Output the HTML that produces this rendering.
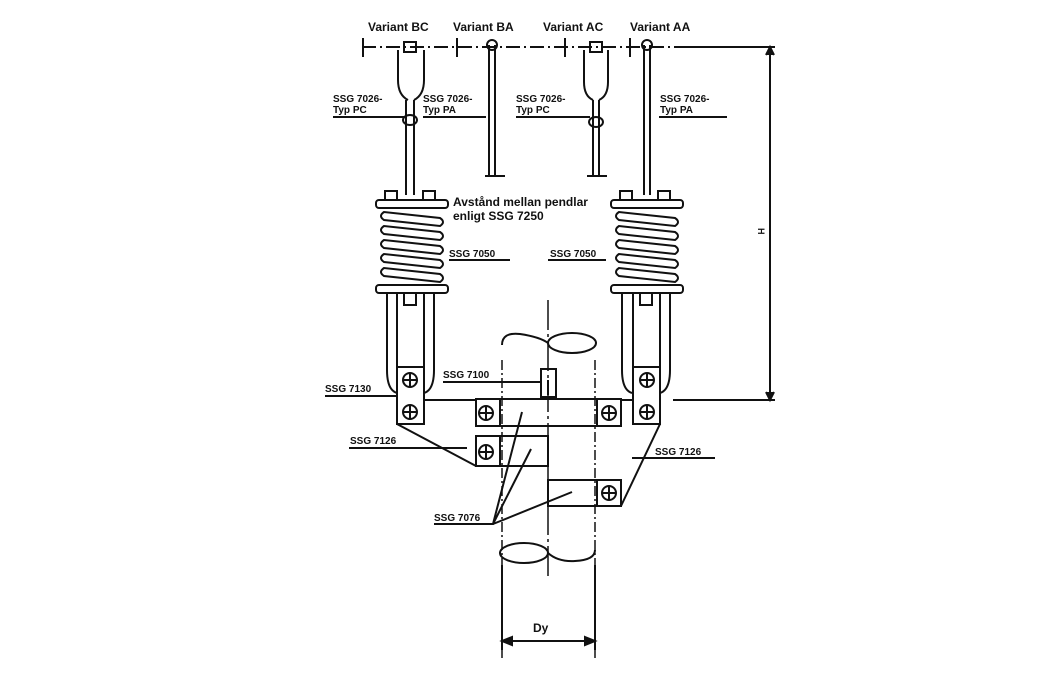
<!DOCTYPE html>
<html><head><meta charset="utf-8"><style>
html,body{margin:0;padding:0;background:#fff;width:1057px;height:682px;overflow:hidden}
text{font-family:"Liberation Sans",sans-serif;font-weight:bold;fill:#111}
</style></head><body>
<svg width="1057" height="682" viewBox="0 0 1057 682" xmlns="http://www.w3.org/2000/svg">
<g stroke="#111" stroke-width="2" fill="none">
<!-- top centerline -->
<path d="M362 47 H740" stroke-dasharray="14 4 2 4"/>
<path d="M685 47 H775"/>
<path d="M363 38 V57 M457 38 V57 M565 38 V57 M630 38 V57"/>
<!-- H dimension -->
<path d="M770 47 V400 M673 400 H775"/>
<path d="M766 392 L770 400 L774 392 M766 55 L770 47 L774 55" fill="#111"/>
<!-- BC clevis & rod -->
<path d="M398 50 V80 Q398 95 408 100 M424 50 V80 Q424 95 414 100"/>
<rect x="404" y="42" width="12" height="10"/>
<path d="M406 100 V195 M414 100 V195"/>
<ellipse cx="410" cy="120" rx="7" ry="5"/>
<!-- BA rod -->
<path d="M489 45 V176 M495 45 V176 M485 176 H505"/>
<circle cx="492" cy="45" r="5"/>
<!-- AC clevis -->
<path d="M584 50 V82 Q584 96 593 100 M608 50 V82 Q608 96 599 100"/>
<rect x="590" y="42" width="12" height="10"/>
<path d="M593 100 V176 M599 100 V176 M587 176 H607"/>
<ellipse cx="596" cy="122" rx="7" ry="5"/>
<!-- AA rod -->
<path d="M644 45 V195 M650 45 V195"/>
<circle cx="647" cy="45" r="5"/>
<!-- Label underlines -->
<path d="M333 117 H404 M423 117 H486 M516 117 H590 M659 117 H727"/>
<!-- left spring -->
<rect x="376" y="200" width="72" height="8" rx="3"/>
<rect x="385" y="191" width="12" height="9"/><rect x="423" y="191" width="12" height="9"/>
<path d="M384 212 Q378 216 384 220 L440 226 Q446 222 440 218 Z M384 226 Q378 230 384 234 L440 240 Q446 236 440 232 Z M384 240 Q378 244 384 248 L440 254 Q446 250 440 246 Z M384 254 Q378 258 384 262 L440 268 Q446 264 440 260 Z M384 268 Q378 272 384 276 L440 282 Q446 278 440 274 Z"/>
<rect x="376" y="285" width="72" height="8" rx="3"/>
<!-- right spring -->
<rect x="611" y="200" width="72" height="8" rx="3"/>
<rect x="620" y="191" width="12" height="9"/><rect x="658" y="191" width="12" height="9"/>
<path d="M619 212 Q613 216 619 220 L675 226 Q681 222 675 218 Z M619 226 Q613 230 619 234 L675 240 Q681 236 675 232 Z M619 240 Q613 244 619 248 L675 254 Q681 250 675 246 Z M619 254 Q613 258 619 262 L675 268 Q681 264 675 260 Z M619 268 Q613 272 619 276 L675 282 Q681 278 675 274 Z"/>
<rect x="611" y="285" width="72" height="8" rx="3"/>
<path d="M449 260 H510 M548 260 H606"/>
<!-- left hanger -->
<path d="M387 293 V370 Q387 390 397 393 M434 293 V370 Q434 390 424 393"/>
<path d="M397 293 V424 H424 V293"/>
<path d="M404 293 V305 H416 V293"/>
<circle cx="410" cy="380" r="7"/><circle cx="410" cy="412" r="7"/>
<path d="M397 367 H424 M403 380 H417 M410 373 V387 M403 412 H417 M410 405 V419"/>
<!-- right hanger -->
<path d="M622 293 V370 Q622 390 632 393 M670 293 V370 Q670 390 660 393"/>
<path d="M633 293 V424 H660 V293"/>
<path d="M640 293 V305 H652 V293"/>
<circle cx="647" cy="380" r="7"/><circle cx="647" cy="412" r="7"/>
<path d="M633 367 H660 M640 380 H654 M647 373 V387 M640 412 H654 M647 405 V419"/>
<!-- horizontal line y400 -->
<path d="M424 400 H476 M621 400 H633"/>
<!-- pipe -->
<path d="M502 360 V660 M595 360 V660" stroke-dasharray="10 3 2 3" stroke-width="1.5"/>
<path d="M548 300 V580" stroke-dasharray="30 4 3 4" stroke-width="1.5"/>
<path d="M502 345 Q502 332 520 334 Q540 337 548 343"/>
<ellipse cx="572" cy="343" rx="24" ry="10"/>
<ellipse cx="524" cy="553" rx="24" ry="10"/>
<path d="M548 553 Q558 562 575 561 Q595 560 595 550"/>
<!-- SSG 7100 box -->
<rect x="541" y="369" width="15" height="28"/>
<path d="M443 382 H541 M548 380 V395"/>
<!-- clamps -->
<rect x="476" y="399" width="145" height="27"/>
<path d="M500 399 V426 M597 399 V426"/>
<circle cx="486" cy="413" r="7"/><circle cx="609" cy="413" r="7"/>
<path d="M479 413 H493 M486 406 V420 M602 413 H616 M609 406 V420"/>
<rect x="476" y="436" width="72" height="30"/>
<path d="M500 436 V466"/>
<circle cx="486" cy="452" r="7"/><path d="M479 452 H493 M486 445 V459"/>
<rect x="548" y="480" width="73" height="26"/>
<path d="M597 480 V506"/>
<circle cx="609" cy="493" r="7"/><path d="M602 493 H616 M609 486 V500"/>
<!-- diagonals -->
<path d="M397 424 L476 466 M660 424 L621 506"/>
<!-- label lines -->
<path d="M325 396 H397 M349 448 H467 M632 458 H715"/>
<path d="M434 524 H493 L522 412 M493 524 L531 449 M493 524 L572 492"/>
<!-- Dy dimension -->
<path d="M502 565 V650 M595 565 V650 M502 641 H595"/>
<path d="M512 637 L502 641 L512 645 Z M585 637 L595 641 L585 645 Z" fill="#111"/>
</g>
<g font-size="12">
<text x="368" y="31">Variant BC</text>
<text x="453" y="31">Variant BA</text>
<text x="543" y="31">Variant AC</text>
<text x="630" y="31">Variant AA</text>
</g>
<g font-size="10">
<text x="333" y="102">SSG 7026-</text><text x="333" y="113">Typ PC</text>
<text x="423" y="102">SSG 7026-</text><text x="423" y="113">Typ PA</text>
<text x="516" y="102">SSG 7026-</text><text x="516" y="113">Typ PC</text>
<text x="660" y="102">SSG 7026-</text><text x="660" y="113">Typ PA</text>
<text x="449" y="257">SSG 7050</text>
<text x="550" y="257">SSG 7050</text>
<text x="325" y="392">SSG 7130</text>
<text x="443" y="378">SSG 7100</text>
<text x="350" y="444">SSG 7126</text>
<text x="655" y="455">SSG 7126</text>
<text x="434" y="521">SSG 7076</text>
</g>
<g font-size="12">
<text x="453" y="206">Avstånd mellan pendlar</text>
<text x="453" y="220">enligt SSG 7250</text>
<text x="533" y="632">Dy</text>
</g>
<text x="758" y="228" font-size="9" transform="rotate(90 758 228)">H</text>
</svg>
</body></html>
